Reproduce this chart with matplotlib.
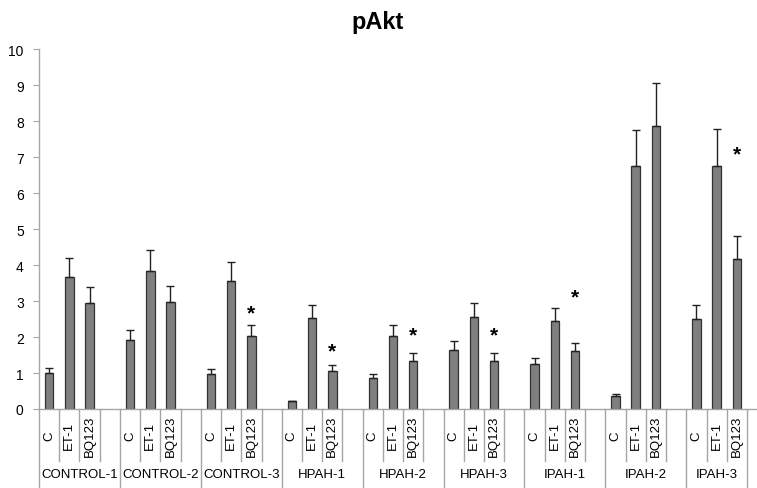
import numpy as np
import matplotlib
matplotlib.use("Agg")
import matplotlib.pyplot as plt
import matplotlib.transforms as mtransforms

plt.rcParams['font.family'] = ['Liberation Sans', 'DejaVu Sans']

groups = ['CONTROL-1', 'CONTROL-2', 'CONTROL-3', 'HPAH-1', 'HPAH-2',
          'HPAH-3', 'IPAH-1', 'IPAH-2', 'IPAH-3']
treatments = ['C', 'ET-1', 'BQ123']

# mean values, one row per group (C, ET-1, BQ123)
means = [
    [1.00, 3.66, 2.94],
    [1.93, 3.84, 2.97],
    [0.96, 3.55, 2.03],
    [0.21, 2.52, 1.06],
    [0.85, 2.03, 1.34],
    [1.64, 2.56, 1.34],
    [1.24, 2.44, 1.60],
    [0.36, 6.74, 7.85],
    [2.51, 6.76, 4.17],
]
# upper error bars
errors = [
    [0.13, 0.53, 0.46],
    [0.27, 0.59, 0.44],
    [0.15, 0.52, 0.31],
    [0.02, 0.38, 0.17],
    [0.12, 0.30, 0.21],
    [0.25, 0.39, 0.21],
    [0.19, 0.36, 0.24],
    [0.06, 1.02, 1.20],
    [0.38, 1.02, 0.63],
]
# significance stars: (group index, star height)
stars = [(2, 2.67), (3, 1.61), (4, 2.06), (5, 2.06), (6, 3.12), (8, 7.08)]

W, H = 757, 489
fig = plt.figure(figsize=(W / 100, H / 100), dpi=100)
ax = fig.add_axes([39 / W, (H - 410) / H, (757 - 39) / W, 360 / H])

slot = (747 - 39) / 35.0
xr = 34.5 + (757 - 747) / slot

xs, ys, es = [], [], []
for g in range(len(groups)):
    for c in range(3):
        xs.append(4 * g + c)
        ys.append(means[g][c])
        es.append(errors[g][c])
xs = np.array(xs)
ys = np.array(ys)
es = np.array(es)

ax.bar(xs, ys, width=0.42, color='#7f7f7f', edgecolor='#333333', linewidth=0.9, zorder=2)
ax.errorbar(xs, ys, yerr=[np.zeros_like(es), es], fmt='none', ecolor='#222222',
            elinewidth=1.0, capsize=3, capthick=1.0, zorder=3)

for g, h in stars:
    ax.text(4 * g + 2, h, '*', ha='center', va='center', fontsize=15, fontweight='bold')

ax.set_xlim(-0.5, xr)
ax.set_ylim(0, 10)
ax.set_yticks(range(0, 11))
ax.tick_params(axis='y', direction='out', length=4, color='#a6a6a6', labelsize=10, pad=7)
ax.set_xticks([])
for s in ['top', 'right']:
    ax.spines[s].set_visible(False)
for s in ['left', 'bottom']:
    ax.spines[s].set_color('#a6a6a6')
    ax.spines[s].set_linewidth(1.0)

# category label area below the axis
trans = mtransforms.blended_transform_factory(ax.transData, ax.transAxes)
short = -52 / 360
long_ = -79 / 360
n_slots = 35
for b in range(n_slots + 1):
    xb = b - 0.5
    is_group = (b % 4 == 0) or b == n_slots
    ax.plot([xb, xb], [0, long_ if is_group else short], transform=trans,
            color='#a6a6a6', lw=1.0, clip_on=False)

for g, name in enumerate(groups):
    for c, t in enumerate(treatments):
        ax.text(4 * g + c, -26 / 360, t, transform=trans, rotation=90,
                ha='center', va='center', fontsize=9.5)
    gc = 4 * g + (1.5 if g < len(groups) - 1 else 1.0)
    ax.text(gc, -65 / 360, name, transform=trans, ha='center', va='center', fontsize=9.5)

fig.text(378 / W, 1 - 23 / H, 'pAkt', ha='center', va='center', fontsize=17, fontweight='bold')

fig.savefig('out.png', dpi=100)
